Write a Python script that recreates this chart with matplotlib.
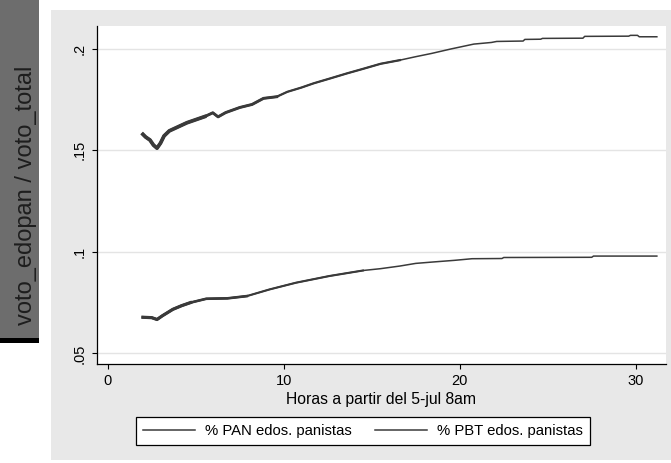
import numpy as np
import matplotlib
matplotlib.use("Agg")
import matplotlib.pyplot as plt
from matplotlib.patches import Rectangle

plt.rcParams["font.family"] = ["Liberation Sans", "DejaVu Sans"]

# ── data ────────────────────────────────────────────────────────────────
hours_pan = [2.0, 2.15, 2.4, 2.6, 2.8, 3.0, 3.2, 3.5, 4.0, 4.5, 5.0, 5.5,
             5.97, 6.27, 6.7, 7.5, 8.2, 8.85, 9.6, 10.2, 11.0, 11.7, 12.6,
             13.6, 14.5, 15.5, 16.6, 17.5, 18.4, 19.5, 20.8, 21.8, 22.1,
             23.6, 23.7, 24.6, 24.7, 27.0, 27.1, 29.6, 29.7, 30.1, 30.2, 31.2]
pan_share = [0.1578, 0.1565, 0.1550, 0.1525, 0.1510, 0.1535, 0.1570, 0.1595,
             0.1615, 0.1635, 0.1650, 0.1665, 0.1684, 0.1664, 0.1685, 0.1710,
             0.1725, 0.1755, 0.1763, 0.1787, 0.1808, 0.1829, 0.1852, 0.1878,
             0.1900, 0.1925, 0.1943, 0.1960, 0.1976, 0.1998, 0.2022, 0.2030,
             0.2035, 0.2037, 0.2045, 0.2046, 0.2050, 0.2051, 0.2060, 0.2061,
             0.2065, 0.2065, 0.2058, 0.2058]

hours_pbt = [2.0, 2.5, 2.8, 3.1, 3.7, 4.2, 4.7, 5.6, 6.8, 7.9, 9.2, 10.7,
             12.6, 14.5, 15.5, 16.6, 17.5, 18.5, 19.7, 20.7, 22.4, 22.5,
             27.5, 27.6, 31.2]
pbt_share = [0.0678, 0.0676, 0.0667, 0.0685, 0.0717, 0.0735, 0.0750, 0.0769,
             0.0771, 0.0782, 0.0815, 0.0848, 0.0881, 0.0908, 0.0917, 0.0930,
             0.0943, 0.0950, 0.0958, 0.0966, 0.0967, 0.0972, 0.0973, 0.0979,
             0.0979]

series_labels = ["% PAN edos. panistas", "% PBT edos. panistas"]
yticks = [0.05, 0.1, 0.15, 0.2]
ytick_labels = [".05", ".1", ".15", ".2"]
xticks = [0, 10, 20, 30]

LINE = "#3a3a3a"
W, H = 671, 463

fig = plt.figure(figsize=(W / 100, H / 100), dpi=100, facecolor="white")

# ── background panels (Stata-style) ─────────────────────────────────────
fig.patches.append(Rectangle((51 / W, 1 - 460 / H), 1 - 51 / W, 450 / H,
                             transform=fig.transFigure, facecolor="#e8e8e8",
                             edgecolor="none", zorder=-2))
fig.patches.append(Rectangle((0, 1 - 338 / H), 39 / W, 338 / H,
                             transform=fig.transFigure, facecolor="#6d6d6d",
                             edgecolor="none", zorder=-1))
fig.patches.append(Rectangle((0, 1 - 343 / H), 39 / W, 5 / H,
                             transform=fig.transFigure, facecolor="black",
                             edgecolor="none", zorder=-1))

ax = fig.add_axes([97 / W, 1 - 364 / H, (666 - 97) / W, (364 - 26) / H])
ax.set_facecolor("white")

# ── lines ──────────────────────────────────────────────────────────────
hp, ps = np.array(hours_pan), np.array(pan_share)
hb, bs = np.array(hours_pbt), np.array(pbt_share)
ax.plot(hp, ps, color=LINE, lw=1.1, label=series_labels[0], zorder=3)
ax.plot(hb, bs, color=LINE, lw=1.1, label=series_labels[1], zorder=3)
# the early part is noisier, so it reads thicker in the original
for cut, lw in [(16.6, 1.6), (9.7, 2.1), (5.5, 2.7)]:
    m = hp <= cut
    ax.plot(hp[m], ps[m], color=LINE, lw=lw, zorder=3)
for cut, lw in [(14.5, 1.5), (7.9, 1.9), (4.7, 2.3)]:
    m = hb <= cut
    ax.plot(hb[m], bs[m], color=LINE, lw=lw, zorder=3)

# ── axes ───────────────────────────────────────────────────────────────
ax.set_xlim(-0.61, 31.72)
ax.set_ylim(0.0448, 0.2111)
ax.set_xticks(xticks)
ax.set_yticks(yticks)
ax.set_yticklabels(ytick_labels, rotation=90, va="center")
ax.grid(axis="y", color="#e4e4e4", lw=1.0, zorder=0)
ax.grid(axis="x", visible=False)

for s in ["top", "right"]:
    ax.spines[s].set_visible(False)
for s in ["left", "bottom"]:
    ax.spines[s].set_linewidth(0.9)
    ax.spines[s].set_color("black")

ax.tick_params(direction="out", length=3.8, width=0.8, colors="black",
               labelsize=10.5, pad=3.5)

ax.set_xlabel("Horas a partir del 5-jul 8am", fontsize=11.3)
ax.xaxis.set_label_coords(0.5, -0.082)

ax.set_ylabel("voto_edopan / voto_total", fontsize=17, color="#1e1e1e")
ax.yaxis.set_label_coords(-0.106, 0.5)

# ── legend ─────────────────────────────────────────────────────────────
leg = fig.legend(loc="center", bbox_to_anchor=(363 / W, 1 - 431 / H), ncol=2,
                 fontsize=10.7, frameon=True, fancybox=False, framealpha=1,
                 edgecolor="black", handlelength=3.5, handletextpad=0.65,
                 columnspacing=1.6, borderpad=0.45)
leg.get_frame().set_linewidth(0.9)

fig.savefig("out.png", dpi=100, facecolor="white")
